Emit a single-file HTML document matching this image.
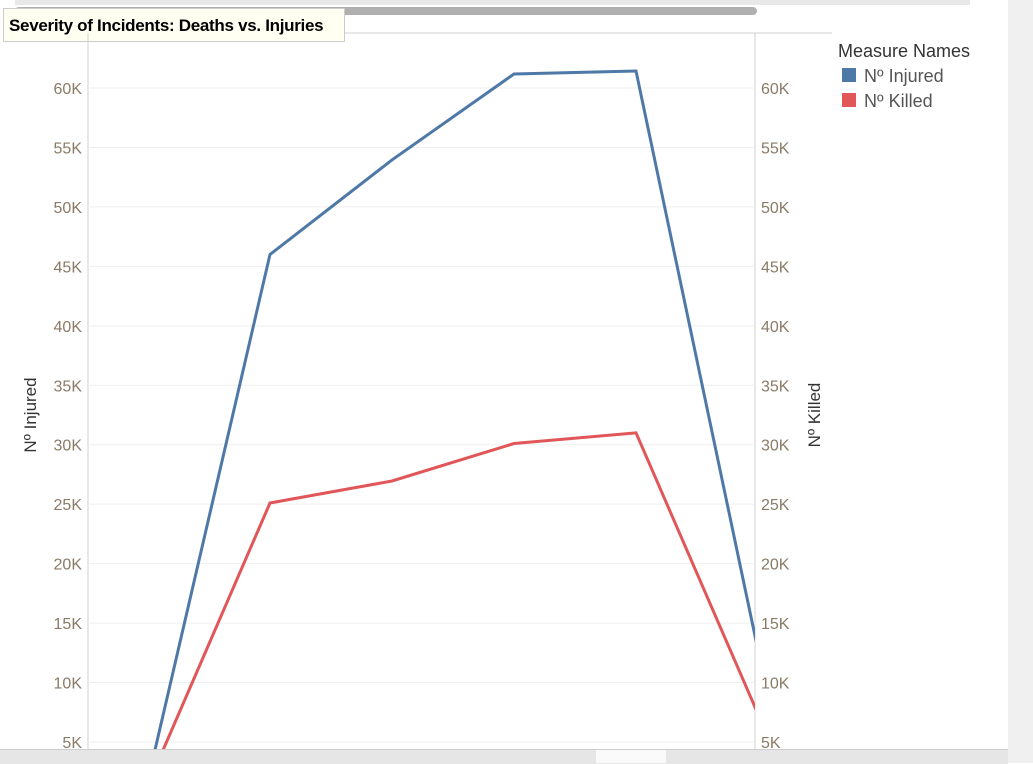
<!DOCTYPE html>
<html><head><meta charset="utf-8"><style>
body{margin:0;width:1033px;height:763px;overflow:hidden;background:#fff;font-family:"Liberation Sans",sans-serif;position:relative}
.abs{position:absolute}
</style></head><body>
<div class="abs" style="left:15px;top:0;width:955px;height:5px;background:#e8e8e8"></div>
<div class="abs" style="left:15px;top:7px;width:742px;height:8px;background:#b0b0b0;border-radius:4px"></div>
<div class="abs" style="left:1008px;top:0;width:25px;height:763px;background:#f0f0f0"></div>
<div class="abs" style="left:3px;top:8px;width:342px;height:34px;background:#fffff2;border:1px solid #ccc;box-sizing:border-box;font-weight:bold;font-size:17px;line-height:34px;padding-left:5px;letter-spacing:-0.3px">Severity of Incidents: Deaths vs. Injuries</div>
<svg class="abs" style="left:0;top:0" width="1033" height="763" id="chart">
<line x1="345" y1="33" x2="832" y2="33" stroke="#d0d0d0"/>
<line x1="88" y1="33" x2="88" y2="750" stroke="#d0d0d0"/>
<line x1="755" y1="33" x2="755" y2="750" stroke="#d0d0d0"/>
<g id="grid"></g><g id="lines"></g>
<text x="36" y="415" transform="rotate(-90 36 415)" text-anchor="middle" font-size="17" fill="#333" font-family="Liberation Sans, sans-serif">Nº Injured</text>
<text x="820" y="415" transform="rotate(-90 820 415)" text-anchor="middle" font-size="17" fill="#333" font-family="Liberation Sans, sans-serif">Nº Killed</text>
<text x="838" y="57" font-size="18" fill="#333">Measure Names</text>
<rect x="842" y="68" width="14" height="14" fill="#4e79a7"/>
<text x="864" y="82" font-size="18" fill="#555">Nº Injured</text>
<rect x="842" y="93" width="14" height="14" fill="#e15759"/>
<text x="864" y="107" font-size="18" fill="#555">Nº Killed</text>
</svg>
<div class="abs" style="left:0;top:749px;width:1008px;height:14px;background:#e6e6e6;border-top:1px solid #ccc"></div>
<div class="abs" style="left:596px;top:750px;width:70px;height:13px;background:#fafafa"></div>
<script>
const ticks=[5000,10000,15000,20000,25000,30000,35000,40000,45000,50000,55000,60000];
const tickLabels=["5K","10K","15K","20K","25K","30K","35K","40K","45K","50K","55K","60K"];
const categories=[0,1,2,3,4,5];
const injured=[1800,46000,53950,61180,61430,12730];
const killed=[1400,25100,26950,30100,31000,7350];
const ns="http://www.w3.org/2000/svg";
const y=v=>88+(60000-v)*654/55000;
const x=i=>148+i*122;
const svg=document.getElementById('chart'),grid=document.getElementById('grid'),lines=document.getElementById('lines');
ticks.forEach((t,i)=>{
 const l=document.createElementNS(ns,'line');
 
 
 l.setAttribute('x1',88);l.setAttribute('x2',755);l.setAttribute('y1',y(t));l.setAttribute('y2',y(t));l.setAttribute('stroke','#efefef');
 grid.appendChild(l);
 [[82,'end','left'],[761,'start','right']].forEach(([tx,a,side])=>{
  const s=document.createElementNS(ns,'text');
  
  
  s.setAttribute('x',tx);s.setAttribute('y',y(t)+6);s.setAttribute('text-anchor',a);s.setAttribute('font-size','16');s.setAttribute('fill','#8a7a66');
  s.textContent=tickLabels[i];grid.appendChild(s);
 });
});
const cp=document.createElementNS(ns,'clipPath');cp.id='clip';
const cr=document.createElementNS(ns,'rect');cr.setAttribute('x',88);cr.setAttribute('y',33);cr.setAttribute('width',667);cr.setAttribute('height',717);cp.appendChild(cr);svg.appendChild(cp);
[[injured,'#4e79a7','injured'],[killed,'#e15759','killed']].forEach(([d,c,n])=>{
 const p=document.createElementNS(ns,'polyline');
 
 
 p.setAttribute('points',categories.map(i=>x(i)+','+y(d[i])).join(' '));
 p.setAttribute('fill','none');p.setAttribute('stroke',c);p.setAttribute('stroke-width','3');p.setAttribute('clip-path','url(#clip)');
 lines.appendChild(p);
});
</script>
</body></html>
